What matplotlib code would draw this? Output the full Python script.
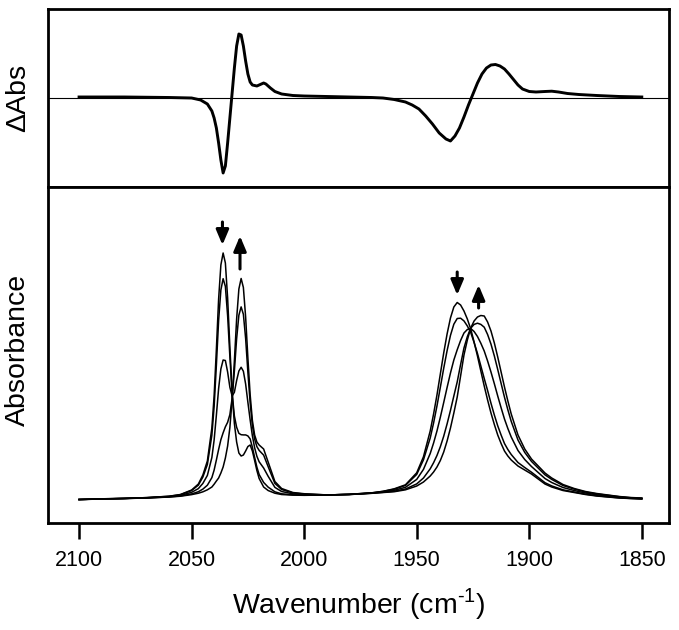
"""Difference spectrum (top) and absorbance series (bottom) in the carbonyl region."""

import matplotlib
matplotlib.use("Agg")
import matplotlib.pyplot as plt

plt.rcParams["font.family"] = ["Liberation Sans", "DejaVu Sans"]
plt.rcParams["mathtext.fontset"] = "custom"
plt.rcParams["mathtext.rm"] = "Liberation Sans"

# ---- data ----
# difference spectrum, arbitrary units
diff_wn = [2100, 2080, 2060, 2050, 2046, 2043, 2041, 2040, 2039, 2038, 2037, 2036,
           2035, 2034, 2033, 2032, 2031, 2030, 2029, 2028, 2027, 2026, 2025, 2024,
           2023, 2022, 2021, 2020, 2019, 2018, 2017, 2015, 2013, 2010, 2005, 2000,
           1990, 1980, 1970, 1965, 1960, 1955, 1952, 1949, 1946, 1943, 1940, 1937,
           1935, 1933, 1931, 1929, 1927, 1925, 1923, 1921, 1919, 1917, 1915, 1913,
           1911, 1909, 1907, 1905, 1903, 1900, 1897, 1893, 1890, 1887, 1883, 1878,
           1870, 1860, 1850]
diff_val = [1, 1, 0.5, 0, -2, -6, -13, -20, -30, -45, -62, -75,
            -68, -45, -20, 5, 30, 52, 64, 63, 52, 37, 24, 16,
            13, 12.5, 12, 13, 14, 15, 14, 10, 6.5, 4, 2.5, 2,
            1.5, 1, 0.5, 0, -1.5, -4, -7, -11, -18, -26, -35, -41,
            -43, -38, -30, -19, -7, 4, 15, 24, 30, 33, 33.5, 32,
            29, 24, 18.5, 13, 9, 6.5, 6, 6.5, 6.8, 6, 4.5, 3.5,
            2.5, 1.5, 1]

# absorbance spectra (mOD), five time points
wn = [2100, 2090, 2080, 2070, 2060, 2055, 2050, 2047, 2045, 2043, 2041, 2040,
      2039, 2038, 2037, 2036, 2035, 2034, 2033, 2032, 2031, 2030, 2029, 2028,
      2027, 2026, 2025, 2024, 2023, 2022, 2021, 2020, 2018, 2016, 2013, 2010,
      2005, 2000, 1990, 1980, 1970, 1965, 1960, 1955, 1950, 1947,
      1944, 1942.5, 1941, 1939.5, 1938, 1936.5, 1935, 1933.5, 1932, 1930.5,
      1929, 1927.5, 1926, 1924.5, 1923, 1921.5, 1920, 1918.5, 1917, 1915.5,
      1914, 1912.5, 1911, 1909.5, 1908,
      1905, 1902, 1899, 1896, 1893, 1890, 1885, 1880, 1875, 1870, 1865, 1860,
      1855, 1850]
abs_t1 = [1.5, 2.2, 2.6, 3.4, 4.8, 6.5, 11, 17, 26, 40, 73, 105,
          151.5, 202, 236, 248, 238, 203, 154, 108.5, 77.5, 59, 48, 45,
          46, 50, 54.5, 56, 50, 40.5, 30.5, 22.5, 14, 10.5, 7.8, 6.5,
          5.9, 5.7, 6.0, 6.7, 8.2, 9.7, 12.2, 16.2, 28.2, 44.2,
          70, 87, 106, 127, 148, 167, 183, 194, 198.5, 196,
          190, 182, 172, 159, 145, 130, 115, 101, 88, 76.5,
          66, 57.5, 50, 45, 41,
          35, 31, 27, 22, 17, 14, 10.5, 8.5, 6.5, 5, 4, 3,
          2.5, 2]
abs_t2 = [1.5, 2.2, 2.6, 3.4, 4.7, 6.3, 10.5, 15.9, 24.0, 36.5, 65.9, 94.4,
          135.7, 180.5, 211.0, 222.3, 214.6, 185.2, 144.3, 107.7, 85.0, 73.8, 67.7, 66.3,
          66.1, 66.1, 65.1, 62.1, 53.7, 43.6, 33.9, 26.5, 18.6, 13.9, 9.2, 7.2,
          6.2, 5.9, 6.0, 6.7, 8.1, 9.6, 11.8, 15.6, 26.6, 41.2,
          63, 78, 95, 113.7, 132.7, 150.3, 165.6, 176.8, 182.5, 182.8,
          180.1, 175.0, 168.5, 158.5, 147.5, 135, 122.5, 110.5, 97.8, 86.0,
          75.2, 66.0, 57.5, 51.5, 46.5,
          38.5, 33.5, 28.8, 23.6, 18.3, 15.1, 11.2, 9.0, 6.9, 5.3, 4.2, 3.2,
          2.6, 2.1]
abs_t3 = [1.5, 2.1, 2.55, 3.2, 4.4, 5.65, 8.7, 12.4, 17.6, 25.6, 43.5, 60.9,
          85.75, 112.5, 132, 141, 140.5, 129, 113.75, 105.05, 108.75, 120.5, 130, 133.75,
          129.75, 117, 98.75, 81.25, 65.25, 53.25, 44.75, 39.25, 33, 24.75, 13.65, 9.5,
          7.2, 6.5, 6.05, 6.6, 7.95, 9.1, 10.75, 13.7, 21.6, 31.6,
          47.5, 58, 70, 83.75, 98.5, 113.5, 128, 141, 151.25, 160.5,
          168, 171.5, 172.5, 169.5, 164.5, 157.75, 150, 140, 129, 117.25,
          105, 93.25, 82, 72.5, 64,
          50.5, 41.5, 34.5, 28.5, 22.5, 18.5, 13.5, 10.5, 8, 6.25, 5, 3.75,
          3, 2.5]
abs_t4 = [1.5, 2.0, 2.5, 3.1, 4.1, 5.1, 7.1, 9.3, 11.9, 15.8, 23.4, 30.9,
          41.0, 51.6, 61.3, 68.2, 74.2, 78.7, 86.4, 102.7, 130.0, 162.3, 185.8, 194.1,
          186.7, 162.6, 128.8, 98.4, 75.6, 61.9, 54.4, 50.6, 45.9, 34.4, 17.6, 11.5,
          8.1, 7.0, 6.1, 6.5, 7.8, 8.7, 9.8, 12.0, 17.1, 23.0,
          32.2, 38.3, 45.5, 54.3, 64.8, 77.1, 90.6, 105.0, 119.1, 136.4,
          153.0, 164.4, 172.8, 176.6, 177.8, 176.6, 173.8, 166.5, 156.9, 145.0,
          131.5, 117.6, 103.8, 91.2, 79.6,
          61.0, 48.6, 39.6, 32.9, 26.2, 21.6, 15.5, 11.9, 9.0, 7.1, 5.7, 4.3,
          3.3, 2.8]
abs_t5 = [1.5, 2, 2.5, 3, 4, 4.8, 6.4, 7.8, 9.2, 11.2, 14, 16.8,
          20, 23, 28, 34, 43, 55, 73.5, 101.6, 140, 182, 212, 222.5,
          213.5, 184, 143, 106.5, 80.5, 66, 59, 56, 52, 39, 19.5, 12.5,
          8.5, 7.3, 6.1, 6.5, 7.7, 8.5, 9.3, 11.2, 15, 19,
          25, 29, 34, 40.5, 49, 60, 73, 88, 104, 125,
          146, 161, 173, 180, 184, 185.5, 185, 179, 170, 158,
          144, 129, 114, 100, 87,
          66, 52, 42, 35, 28, 23, 16.5, 12.5, 9.5, 7.5, 6, 4.5,
          3.5, 3]
spectra = [abs_t1, abs_t2, abs_t3, abs_t4, abs_t5]

# arrows: (wavenumber, tail, tip) in mOD
arrows = [(2036.3, 279, 256), (2028.5, 232, 265), (1932.0, 229, 206), (1922.5, 193, 216)]

xticks = [2100, 2050, 2000, 1950, 1900, 1850]

# ---- figure ----
fig = plt.figure(figsize=(6.79, 6.30), dpi=100)
ax_top = fig.add_axes([0.0707, 0.7032, 0.9146, 0.2825])
ax_bot = fig.add_axes([0.0707, 0.1698, 0.9146, 0.5334])

ax_top.axhline(0, color="black", linewidth=0.8, zorder=1)
ax_top.plot(diff_wn, diff_val, color="black", linewidth=2.1, zorder=2)
ax_top.set_ylim(-89, 89)

for spec in spectra:
    ax_bot.plot(wn, spec, color="black", linewidth=1.1)
ax_bot.set_ylim(-22, 314)

for x, tail, tip in arrows:
    ax_bot.annotate("", xy=(x, tip), xytext=(x, tail),
                    arrowprops=dict(arrowstyle="-|>,head_length=0.9,head_width=0.38",
                                    color="black", lw=2.2, shrinkA=0, shrinkB=0))

for ax in (ax_top, ax_bot):
    ax.set_xlim(2113.8, 1837.9)
    for sp in ax.spines.values():
        sp.set_linewidth(2.0)
    ax.set_yticks([])

ax_top.set_xticks([])
ax_bot.set_xticks(xticks)
ax_bot.set_xticklabels([str(t) for t in xticks])
ax_bot.tick_params(axis="x", direction="out", length=11.5, width=1.8, pad=8, labelsize=15.5)

ax_bot.set_xlabel("Wavenumber (cm$^{\\mathregular{\u20101}}$)", fontsize=20.5, labelpad=11)
fig.text(18 / 679, 1 - 98 / 630, "\u0394Abs", rotation=90, ha="center", va="center", fontsize=20.5)
fig.text(18 / 679, 1 - 350 / 630, "Absorbance", rotation=90, ha="center", va="center", fontsize=20.5)

fig.savefig("out.png", dpi=100)
